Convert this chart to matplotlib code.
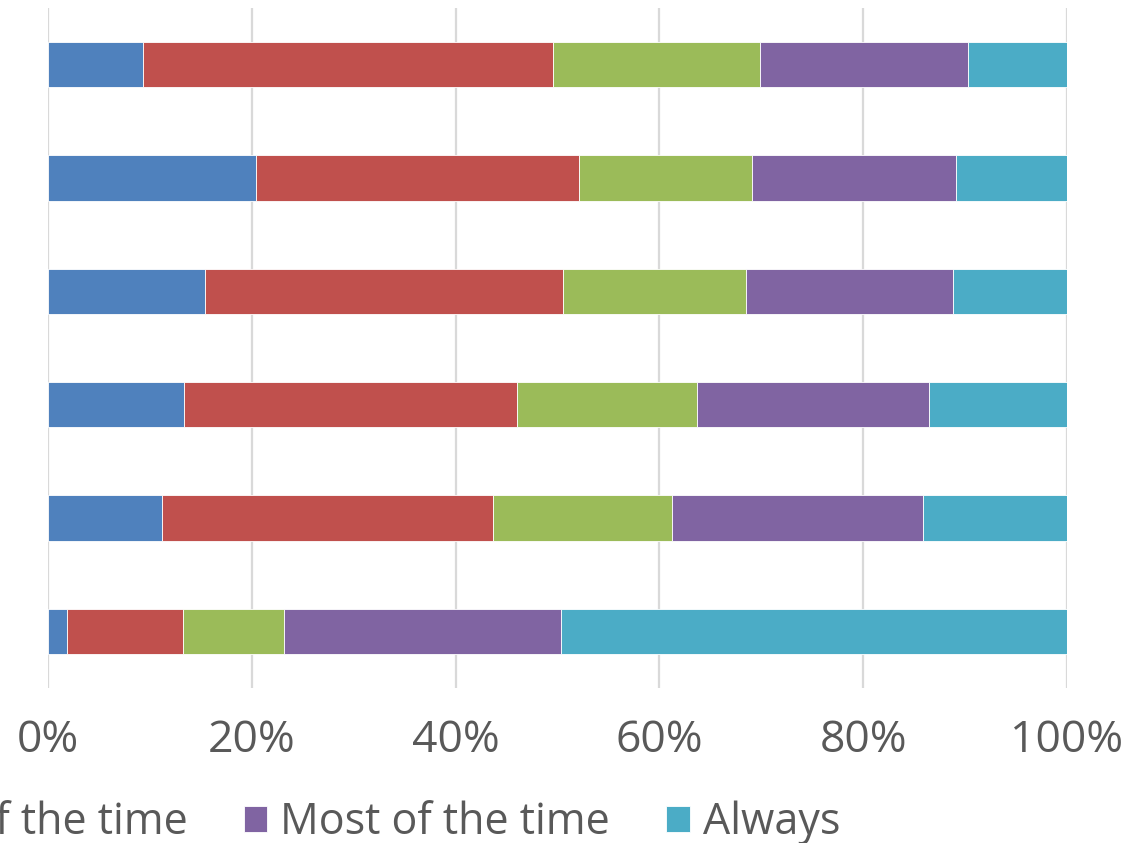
import numpy as np
import matplotlib
matplotlib.use("Agg")
import matplotlib.pyplot as plt

plt.rcParams["font.family"] = ["Open Sans", "DejaVu Sans"]

# response shares per group (percent), top row first
series = ["Never", "Rarely", "Some of the time", "Most of the time", "Always"]
never = [9.3, 20.4, 15.4, 13.3, 11.2, 1.9]
rarely = [40.3, 31.7, 35.1, 32.7, 32.5, 11.3]
some = [20.3, 17.0, 18.0, 17.7, 17.5, 10.0]
most = [20.4, 20.0, 20.3, 22.8, 24.7, 27.1]
always = [9.7, 10.9, 11.2, 13.5, 14.1, 49.7]
colors = ["#4f81bd", "#c0504d", "#9bbb59", "#8064a2", "#4bacc6"]
xticks = [0, 20, 40, 60, 80, 100]

data = np.array([never, rarely, some, most, always])
data = data / data.sum(axis=0) * 100
ypos = np.arange(data.shape[1])

fig = plt.figure(figsize=(11.42, 8.43), dpi=100)
ax = fig.add_axes([48 / 1142, 1 - 688 / 843, (1067 - 48) / 1142, 680 / 843])
left = np.zeros(data.shape[1])
for vals, c, name in zip(data, colors, series):
    ax.barh(ypos, vals, left=left, height=0.4, color=c, label=name,
            edgecolor="white", linewidth=0.6, zorder=3)
    left += vals

ax.set_xlim(0, 100)
ax.set_ylim(-0.5, len(ypos) - 0.5)
ax.invert_yaxis()
ax.set_xticks(xticks)
ax.set_xticklabels([f"{t}%" for t in xticks])
ax.set_yticks([])
ax.tick_params(axis="x", length=0, pad=22, labelsize=32, labelcolor="#595959")
ax.grid(axis="x", color="#d9d9d9", linewidth=1.6, zorder=0)
for s in ax.spines.values():
    s.set_visible(False)

fig.legend(loc="center right", bbox_to_anchor=(840 / 1142, 1 - 823 / 843),
           ncol=5, frameon=False, fontsize=31, labelcolor="#595959",
           handlelength=0.55, handleheight=0.55, handletextpad=0.3,
           columnspacing=1.3, borderpad=0, borderaxespad=0)

fig.savefig("out.png", dpi=100)
